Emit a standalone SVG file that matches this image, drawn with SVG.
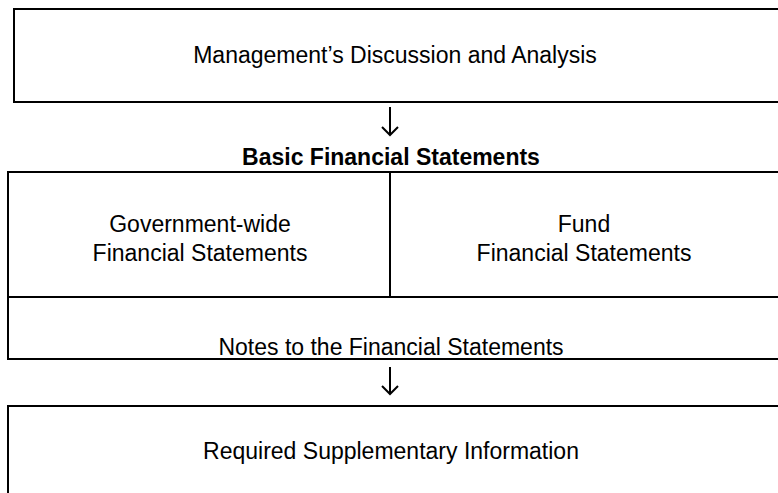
<svg xmlns="http://www.w3.org/2000/svg" width="778" height="493" viewBox="0 0 778 493">
<style>
.box{fill:none;stroke:#000;stroke-width:2}
.t{font-family:"Liberation Sans",Arial,sans-serif;font-size:23px;fill:#000;text-anchor:middle}
.b{font-weight:bold}
.ar{stroke:#000;stroke-width:2;fill:none}
</style>
<rect width="778" height="493" fill="#fff"/>
<g id="mda">
<path class="box" d="M790,9 H14 V102 H790"/>
<text class="t" x="395" y="63">Management’s Discussion and Analysis</text>
</g>
<g id="bfs-title">
<text class="t b" x="391" y="165">Basic Financial Statements</text>
</g>
<g id="bfs">
<path class="box" d="M790,172 H8 V359 H790"/>
<path class="box" d="M8,297 H790"/>
</g>
<g id="gov">
<path class="box" d="M390,172 V297"/>
<text class="t" x="200" y="232">Government-wide</text>
<text class="t" x="200" y="261">Financial Statements</text>
</g>
<g id="fund">
<text class="t" x="584" y="232">Fund</text>
<text class="t" x="584" y="261">Financial Statements</text>
</g>
<g id="notes">
<text class="t" x="391" y="355">Notes to the Financial Statements</text>
</g>
<g id="rsi">
<path class="box" d="M790,406 H8 V500"/>
<text class="t" x="391" y="459">Required Supplementary Information</text>
</g>
<g id="connectors">
<path class="ar" d="M390,107 V135 M382,127 L390,135 L398,127"/>
<path class="ar" d="M390,367 V394 M382,386 L390,394 L398,386"/>
</g>
</svg>
